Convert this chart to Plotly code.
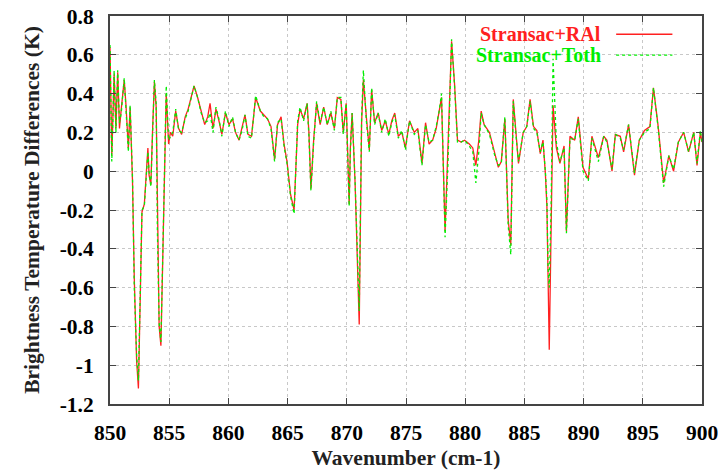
import plotly.graph_objects as go

# ---- data ----
wavenumber = [
    850.00, 850.15, 850.35, 850.50, 850.65, 850.80, 850.95, 851.20, 851.35, 851.55,
    851.70, 851.90, 852.05, 852.25, 852.40, 852.55, 852.70, 852.90, 853.05, 853.20,
    853.30, 853.45, 853.60, 853.75, 853.90, 854.00, 854.15, 854.30, 854.45, 854.60,
    854.75, 854.95, 855.10, 855.30, 855.55, 855.80, 856.05, 856.35, 856.60, 856.85,
    857.10, 857.40, 857.70, 858.00, 858.25, 858.45, 858.70, 858.95, 859.20, 859.45,
    859.75, 860.05, 860.35, 860.60, 860.90, 861.15, 861.40, 861.65, 861.95, 862.30,
    862.70, 863.00, 863.30, 863.60, 863.90, 864.15, 864.45, 864.70, 864.95, 865.25,
    865.55, 865.85, 866.05, 866.35, 866.65, 866.80, 866.97, 867.20, 867.45, 867.75,
    868.05, 868.35, 868.65, 868.95, 869.20, 869.50, 869.70, 869.95, 870.20, 870.30,
    870.45, 870.70, 870.90, 871.05, 871.25, 871.40, 871.65, 871.90, 872.10, 872.35,
    872.65, 872.95, 873.25, 873.55, 873.80, 874.05, 874.35, 874.65, 874.95, 875.30,
    875.70, 876.00, 876.35, 876.65, 876.95, 877.25, 877.55, 877.80, 878.00, 878.30,
    878.55, 878.85, 879.10, 879.35, 879.65, 879.95, 880.35, 880.64, 880.90, 881.15,
    881.35, 881.60, 882.05, 882.50, 882.80, 883.05, 883.35, 883.63, 883.85, 884.06,
    884.34, 884.50, 884.90, 885.20, 885.48, 885.77, 886.05, 886.34, 886.57, 886.77,
    886.90, 887.00, 887.10, 887.25, 887.42, 887.70, 888.00, 888.35, 888.55, 888.85,
    889.25, 889.55, 889.95, 890.40, 890.70, 891.25, 891.70, 891.97, 892.40, 892.68,
    893.10, 893.38, 893.80, 894.30, 894.70, 895.14, 895.60, 895.90, 896.30, 896.76,
    897.20, 897.60, 898.00, 898.45, 898.87, 899.30, 899.58, 899.86, 900.00,
]

stransac_ral = [
    0.64, 0.08, 0.50, 0.22, 0.51, 0.22, 0.32, 0.47, 0.34, 0.12,
    0.33, -0.05, -0.55, -0.98, -1.12, -0.72, -0.21, -0.17, -0.05, 0.12,
    -0.02, -0.07, 0.22, 0.46, 0.33, -0.25, -0.80, -0.90, -0.40, 0.10,
    0.40, 0.14, 0.20, 0.18, 0.31, 0.22, 0.19, 0.28, 0.32, 0.38,
    0.44, 0.38, 0.31, 0.24, 0.28, 0.35, 0.22, 0.32, 0.26, 0.19,
    0.30, 0.24, 0.27, 0.20, 0.16, 0.22, 0.29, 0.19, 0.18, 0.38,
    0.31, 0.29, 0.27, 0.23, 0.06, 0.24, 0.28, 0.14, 0.05, -0.12,
    -0.20, 0.24, 0.32, 0.27, 0.35, 0.20, -0.09, 0.16, 0.35, 0.24,
    0.33, 0.24, 0.30, 0.22, 0.38, 0.37, 0.20, 0.35, -0.17, 0.12,
    0.30, -0.06, -0.45, -0.79, 0.25, 0.47, 0.28, 0.11, 0.42, 0.25,
    0.30, 0.21, 0.26, 0.19, 0.26, 0.30, 0.18, 0.20, 0.12, 0.26,
    0.20, 0.22, 0.04, 0.25, 0.14, 0.16, 0.22, 0.30, 0.38, -0.31,
    0.10, 0.67, 0.45, 0.16, 0.15, 0.16, 0.14, 0.12, 0.03, 0.16,
    0.31, 0.24, 0.20, 0.09, 0.02, 0.05, 0.27, -0.25, -0.38, 0.37,
    0.16, 0.04, 0.20, 0.23, 0.37, 0.23, 0.21, 0.09, 0.16, -0.01,
    -0.18, -0.58, -0.92, -0.32, 0.34, 0.12, 0.04, 0.13, -0.31, 0.18,
    0.16, 0.28, 0.02, -0.04, 0.18, 0.07, 0.18, 0.16, 0.00, 0.19,
    0.18, 0.10, 0.24, -0.02, 0.16, 0.21, 0.23, 0.43, 0.23, -0.06,
    0.08, 0.00, 0.15, 0.20, 0.10, 0.20, 0.03, 0.20, 0.15,
]

stransac_toth = [
    0.65, 0.05, 0.52, 0.20, 0.52, 0.25, 0.30, 0.48, 0.32, 0.10,
    0.34, -0.03, -0.60, -0.95, -1.08, -0.70, -0.20, -0.18, -0.06, 0.10,
    0.00, -0.08, 0.20, 0.47, 0.35, -0.30, -0.78, -0.88, -0.45, 0.05,
    0.44, 0.16, 0.18, 0.20, 0.32, 0.21, 0.20, 0.27, 0.31, 0.37,
    0.44, 0.38, 0.30, 0.25, 0.26, 0.30, 0.20, 0.33, 0.27, 0.18,
    0.31, 0.23, 0.28, 0.20, 0.16, 0.21, 0.29, 0.18, 0.17, 0.39,
    0.31, 0.28, 0.27, 0.22, 0.05, 0.25, 0.27, 0.13, 0.04, -0.13,
    -0.22, 0.26, 0.33, 0.26, 0.35, 0.18, -0.10, 0.15, 0.36, 0.25,
    0.33, 0.24, 0.31, 0.21, 0.38, 0.38, 0.19, 0.35, -0.18, 0.10,
    0.30, -0.05, -0.42, -0.72, 0.28, 0.52, 0.26, 0.10, 0.43, 0.24,
    0.30, 0.20, 0.27, 0.18, 0.25, 0.29, 0.17, 0.21, 0.11, 0.26,
    0.19, 0.21, 0.03, 0.24, 0.15, 0.16, 0.23, 0.31, 0.40, -0.34,
    0.05, 0.68, 0.44, 0.15, 0.15, 0.16, 0.13, 0.10, -0.06, 0.10,
    0.30, 0.24, 0.19, 0.08, 0.03, 0.04, 0.28, -0.28, -0.43, 0.36,
    0.15, 0.05, 0.20, 0.23, 0.36, 0.22, 0.20, 0.10, 0.15, 0.00,
    -0.15, -0.50, -0.60, -0.20, 0.58, 0.15, 0.05, 0.12, -0.32, 0.17,
    0.16, 0.27, 0.00, -0.05, 0.17, 0.05, 0.18, 0.15, 0.01, 0.19,
    0.17, 0.11, 0.24, -0.01, 0.16, 0.20, 0.22, 0.43, 0.22, -0.08,
    0.08, 0.01, 0.15, 0.20, 0.10, 0.20, 0.04, 0.21, 0.15,
]

series_names = ["Stransac+RAl", "Stransac+Toth"]
series_colors = ["#ff2020", "#00ee00"]

x_tickvals = [850, 855, 860, 865, 870, 875, 880, 885, 890, 895, 900]
y_tickvals = [0.8, 0.6, 0.4, 0.2, 0, -0.2, -0.4, -0.6, -0.8, -1, -1.2]
y_ticktext = ["0.8", "0.6", "0.4", "0.2", "0", "-0.2", "-0.4", "-0.6", "-0.8", "-1", "-1.2"]

FONT = "Liberation Serif"

fig = go.Figure()
fig.add_trace(go.Scatter(
    x=wavenumber, y=stransac_ral, mode="lines", name=series_names[0],
    line=dict(color=series_colors[0], width=1.3), showlegend=False,
))
fig.add_trace(go.Scatter(
    x=wavenumber, y=stransac_toth, mode="lines", name=series_names[1],
    line=dict(color=series_colors[1], width=1.3, dash="dot"), showlegend=False,
))

# gnuplot-style legend: coloured text on the left, line sample on the right
legend_rows = [0.953, 0.899]
dashes = ["solid", "dot"]
for name, color, yy, dash in zip(series_names, series_colors, legend_rows, dashes):
    fig.add_annotation(
        x=0.832, y=yy, xref="paper", yref="paper", text=name, showarrow=False,
        xanchor="right", yanchor="middle",
        font=dict(family=FONT, size=20, color=color, weight="bold"),
    )
    fig.add_shape(
        type="line", xref="paper", yref="paper", x0=0.855, x1=0.950, y0=yy, y1=yy,
        line=dict(color=color, width=1.3, dash=dash),
    )

axis_common = dict(
    showline=True, linecolor="#444444", linewidth=2, mirror="ticks",
    ticks="inside", ticklen=6, tickwidth=1, tickcolor="#444444",
    showgrid=True, gridcolor="#c8c8c8", griddash="dot", gridwidth=1,
    zeroline=False, ticklabeloverflow="allow", automargin=False,
    tickfont=dict(family=FONT, size=21.5, color="black", weight="bold"),
)

fig.update_xaxes(
    range=[850, 900], tickvals=x_tickvals, ticklabelstandoff=8,
    title=dict(text="Wavenumber (cm-1)", standoff=8,
               font=dict(family=FONT, size=21.5, color="#222222", weight="bold")),
    **axis_common,
)
fig.update_yaxes(
    range=[-1.2, 0.8], tickvals=y_tickvals, ticktext=y_ticktext, ticklabelstandoff=10,
    title=dict(text="Brightness Temperature Differences (K)", standoff=14,
               font=dict(family=FONT, size=21.5, color="#222222", weight="bold")),
    **axis_common,
)

fig.update_layout(
    width=718, height=470,
    margin=dict(l=110, r=16, t=16, b=66),
    paper_bgcolor="white", plot_bgcolor="white",
)

fig.write_html("out.html")
